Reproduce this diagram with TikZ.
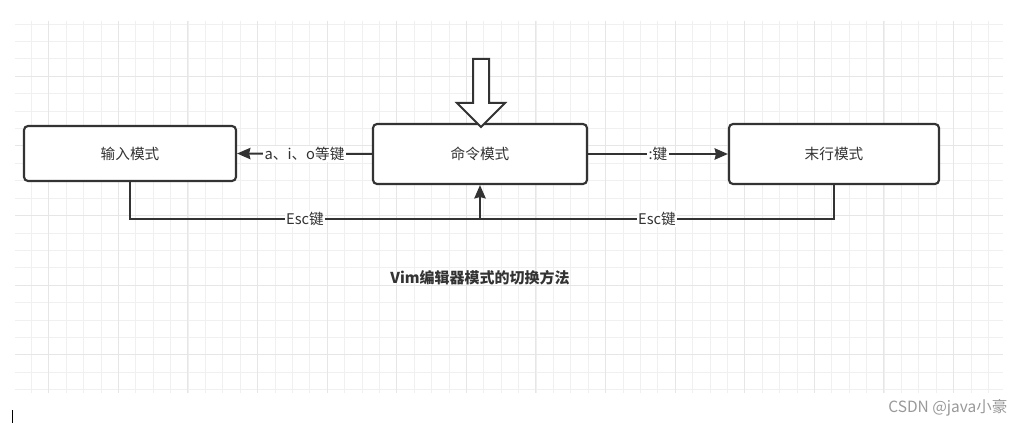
\documentclass[tikz,border=0pt]{standalone}
\usepackage{fontspec}
\setmainfont{Noto Sans CJK SC}
\usetikzlibrary{arrows.meta}
\definecolor{ln}{HTML}{333333}
\definecolor{tx}{HTML}{333333}
\definecolor{gminor}{HTML}{F0F0F0}
\definecolor{gmajor}{HTML}{E6E6E6}
\definecolor{wm}{HTML}{999999}
\tikzset{
  box/.style={draw=ln, line width=1.6pt, fill=white, rounded corners=3pt, text=tx, font=\fontsize{11}{13}\selectfont},
  conn/.style={draw=ln, line width=1.5pt, -{Stealth[length=10pt,width=8.5pt,inset=1pt]}},
  plainline/.style={draw=ln, line width=1.5pt},
  lbl/.style={fill=white, inner sep=1pt, text=tx, font=\fontsize{11}{13}\selectfont},
  minorline/.style={draw=gminor, line width=0.6pt},
  majorline/.style={draw=gmajor, line width=0.8pt}
}
\begin{document}
\begin{tikzpicture}[x=0.75pt,y=-0.75pt]
\useasboundingbox (0,0) rectangle (1027,424);
\fill[white] (0,0) rectangle (1027,424);
\begin{scope}
\clip (15,21) rectangle (1003,393);
\foreach \k in {-5,...,50} \draw[minorline] ({118.3+17.4*\k},21) -- ({118.3+17.4*\k},393);
\foreach \k in {-3,...,18} \draw[minorline] (15,{76.3+17.4*\k}) -- (1003,{76.3+17.4*\k});
\foreach \k in {-1,...,12} \draw[majorline] ({118.3+69.6*\k},21) -- ({118.3+69.6*\k},393);
\foreach \k in {-1,...,4} \draw[majorline] (15,{76.3+69.6*\k}) -- (1003,{76.3+69.6*\k});
\end{scope}

\node[box, minimum width=159pt, minimum height=41.25pt] (inp) at (130,153.5) {输入模式};
\node[box, minimum width=160.5pt, minimum height=45pt] (cmd) at (480,154) {命令模式};
\node[box, minimum width=157.5pt, minimum height=45pt] (end) at (834,154) {末行模式};

\draw[draw=ln, line width=1.5pt, fill=white, line join=miter]
  (473,59) -- (489,59) -- (489,103) -- (505,103) -- (481,127) -- (457,103) -- (473,103) -- cycle;

\coordinate (j) at (480,219);
\draw[conn] (cmd.west) -- node[lbl]{a、i、o等键} (inp.east);
\draw[conn] (cmd.east) -- node[lbl]{:键} (end.west);
\draw[plainline] (end.south) |- node[lbl,pos=0.75]{Esc键} (j);
\draw[conn] (inp.south) |- node[lbl,pos=0.75]{Esc键} (j) -- (cmd.south);

\node[font=\bfseries\fontsize{11.25}{13}\selectfont, text=tx] (title) at (480,278) {Vim编辑器模式的切换方法};
\node[font=\fontsize{11.6}{13}\selectfont, text=wm, anchor=east] (wmark) at (1012,408) {CSDN @java小豪};
\draw[black, line width=0.6pt] (12,410) -- (12,423);
\end{tikzpicture}
\end{document}
